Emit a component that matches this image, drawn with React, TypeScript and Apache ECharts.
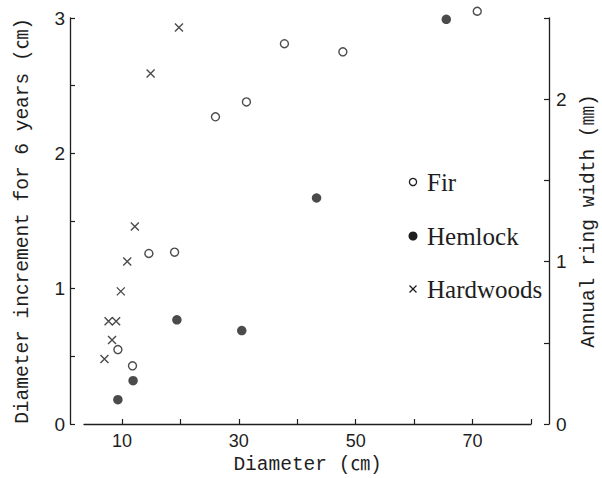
import React, { useEffect, useRef } from "react";
import * as echarts from "echarts";

const firX = [9.3, 11.8, 14.6, 19.0, 26.0, 31.3, 37.8, 47.8, 70.8];
const firY = [0.55, 0.43, 1.26, 1.27, 2.27, 2.38, 2.81, 2.75, 3.05];
const hemX = [9.3, 11.9, 19.4, 30.5, 43.3, 65.5];
const hemY = [0.18, 0.32, 0.77, 0.69, 1.67, 2.99];
const hwX = [7.0, 7.7, 8.3, 9.0, 9.8, 10.9, 12.2, 14.9, 19.75];
const hwY = [0.48, 0.76, 0.62, 0.76, 0.98, 1.2, 1.46, 2.59, 2.93];

const xTicks = [10, 20, 30, 40, 50, 60, 70, 80];
const xLabels = [10, 30, 50, 70];
const leftLabels = [0, 1, 2, 3];
const rightLabels = [0, 1, 2];

const seriesNames = ["Fir", "Hemlock", "Hardwoods"];

const INK = "#1e1e1e";
const MONO = "'Liberation Mono', 'DejaVu Sans Mono', 'Noto Sans CJK JP', monospace";
const NUM = "'Liberation Sans Narrow', 'Liberation Sans', sans-serif";
const SERIF = "'Liberation Serif', 'DejaVu Serif', serif";

const zip = (xs: number[], ys: number[]) => xs.map((x, i) => [x, ys[i]]);

export default function App() {
  const ref = useRef<HTMLDivElement>(null);
  useEffect(() => {
    if (!ref.current) return;
    const chart = echarts.init(ref.current, undefined, { renderer: "svg" });
    const axisCommon = {
      axisLine: { show: true, lineStyle: { color: INK, width: 1.3 } },
      axisTick: { show: true, inside: true, length: 5, lineStyle: { color: INK, width: 1.2 } },
      splitLine: { show: false },
    };
    chart.setOption({
      animation: false,
      backgroundColor: "#ffffff",
      grid: {
        left: 84,
        right: 71,
        top: 18,
        bottom: 54,
        containLabel: false,
        outerBoundsMode: "none",
      },
      xAxis: {
        type: "value",
        min: 3.5,
        max: 80,
        ...axisCommon,
        axisTick: { ...axisCommon.axisTick, customValues: xTicks },
        axisLabel: {
          customValues: xLabels,
          color: INK,
          fontFamily: NUM,
          fontSize: 18,
          margin: 8,
        },
        name: "Diameter (㎝)",
        nameLocation: "middle",
        nameGap: 30,
        nameTextStyle: { color: INK, fontFamily: MONO, fontSize: 19.5 },
      },
      yAxis: [
        {
          type: "value",
          min: 0,
          max: 3,
          interval: 0.5,
          position: "left",
          offset: 14,
          ...axisCommon,
          axisLabel: {
            customValues: leftLabels,
            color: INK,
            fontFamily: NUM,
            fontSize: 19,
            margin: 5,
          },
          name: "Diameter increment for 6 years (㎝)",
          nameLocation: "middle",
          nameRotate: 90,
          nameGap: 37,
          nameTextStyle: { color: INK, fontFamily: MONO, fontSize: 19.5 },
        },
        {
          type: "value",
          min: 0,
          max: 2.5,
          interval: 0.5,
          position: "right",
          offset: 18,
          ...axisCommon,
          axisLabel: {
            customValues: rightLabels,
            color: INK,
            fontFamily: NUM,
            fontSize: 19,
            margin: 7,
          },
          name: "Annual ring width (㎜)",
          nameLocation: "middle",
          nameRotate: 90,
          nameGap: 30,
          nameTextStyle: { color: INK, fontFamily: MONO, fontSize: 19.5 },
        },
      ],
      series: [
        {
          name: seriesNames[0],
          type: "scatter",
          yAxisIndex: 0,
          clip: false,
          symbol: "circle",
          symbolSize: 8,
          itemStyle: { color: "#ffffff", borderColor: INK, borderWidth: 1.4 },
          data: zip(firX, firY),
        },
        {
          name: seriesNames[1],
          type: "scatter",
          yAxisIndex: 0,
          clip: false,
          symbol: "circle",
          symbolSize: 9.5,
          itemStyle: { color: INK },
          data: zip(hemX, hemY),
        },
        {
          name: seriesNames[2],
          type: "scatter",
          yAxisIndex: 0,
          clip: false,
          symbol: "path://M0,0L10,10M10,0L0,10",
          symbolSize: 8,
          itemStyle: { color: "none", borderColor: INK, borderWidth: 1.4 },
          data: zip(hwX, hwY),
        },
      ],
      graphic: [
        {
          type: "circle",
          shape: { cx: 413, cy: 182, r: 3.6 },
          style: { fill: "#fff", stroke: INK, lineWidth: 1.3 },
        },
        {
          type: "circle",
          shape: { cx: 413, cy: 236, r: 4.5 },
          style: { fill: INK },
        },
        {
          type: "line",
          shape: { x1: 409.5, y1: 285.5, x2: 416.5, y2: 292.5 },
          style: { stroke: INK, lineWidth: 1.3 },
        },
        {
          type: "line",
          shape: { x1: 416.5, y1: 285.5, x2: 409.5, y2: 292.5 },
          style: { stroke: INK, lineWidth: 1.3 },
        },
        {
          type: "text",
          x: 427,
          y: 182,
          style: { text: seriesNames[0], fill: INK, font: `25px ${SERIF}`, textVerticalAlign: "middle" },
        },
        {
          type: "text",
          x: 427,
          y: 236,
          style: { text: seriesNames[1], fill: INK, font: `25px ${SERIF}`, textVerticalAlign: "middle" },
        },
        {
          type: "text",
          x: 427,
          y: 289,
          style: { text: seriesNames[2], fill: INK, font: `25px ${SERIF}`, textVerticalAlign: "middle" },
        },
      ],
    });
    return () => chart.dispose();
  }, []);
  return (
    <div
      ref={ref}
      style={{ position: "fixed", left: 0, top: 0, width: 602, height: 478 }}
    />
  );
}
